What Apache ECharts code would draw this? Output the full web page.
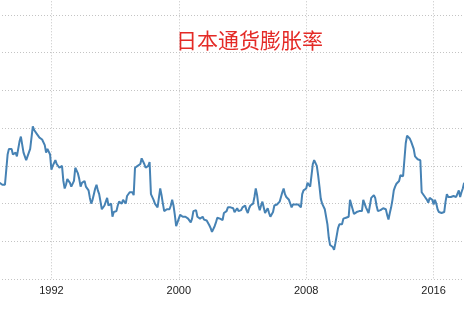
<!DOCTYPE html>
<html>
<head>
<meta charset="utf-8">
<script src="https://cdn.jsdelivr.net/npm/echarts@6/dist/echarts.min.js"></script>
<style>
html,body{margin:0;padding:0;background:#fff;}
#chart{width:464px;height:309px;}
</style>
</head>
<body>
<div id="chart"></div>
<script>
// Japan CPI inflation, year-over-year %, monthly from Oct 1988
var titleText = '日本通货膨胀率';
var startYear = 1988;
var startMonthIndex = 9; // October
var xTickYears = [1992, 2000, 2008, 2016];
var yTicks = [-4, -2, 0, 2, 4, 6, 8, 10, 12];

var values1988to1995 = [
  1.1, 1.1, 1.0,
  1.0, 1.0, 1.0, 2.6, 2.9, 3.0, 2.9, 2.6, 2.7, 2.7, 2.5, 2.9,
  3.3, 3.55, 3.6, 2.7, 2.7, 2.3, 2.4, 2.7, 2.9, 3.5, 4.1, 3.9,
  4.0, 3.7, 3.6, 3.5, 3.4, 3.4, 3.5, 3.1, 2.7, 2.9, 3.0, 2.6,
  1.8, 2.0, 2.1, 2.3, 2.1, 2.2, 1.9, 1.8, 2.0, 1.2, 0.8, 1.0,
  1.3, 1.3, 1.1, 0.9, 0.8, 1.2, 1.9, 1.9, 1.6, 1.3, 0.9, 1.1,
  1.2, 1.2, 0.9, 0.8, 0.7, 0.3, 0.0, 0.2, 0.5, 0.8, 1.0, 0.7,
  0.5, 0.4, -0.3, -0.4, -0.1, 0.1, 0.3, -0.1, -0.1, 0.0, -0.7, -0.45
];
var values1996to2005 = [
  -0.5, -0.4, -0.1, 0.1, 0.2, 0.0, 0.2, 0.3, 0.0, 0.4, 0.5, 0.6,
  0.6, 0.6, 0.45, 1.9, 2.0, 2.0, 1.9, 2.1, 2.4, 2.4, 2.1, 1.9,
  1.8, 2.0, 2.2, 0.5, 0.4, 0.2, 0.0, -0.1, -0.2, 0.3, 0.8, 0.45,
  0.0, -0.4, -0.3, -0.3, -0.4, -0.3, -0.1, 0.2, -0.1, -0.6, -1.2, -1.0,
  -0.8, -0.6, -0.6, -0.7, -0.6, -0.7, -0.7, -0.8, -0.9, -1.0, -0.8, -0.4,
  -0.3, -0.35, -0.7, -0.75, -0.8, -0.8, -0.7, -0.85, -0.8, -0.9, -1.0, -1.15,
  -1.3, -1.5, -1.45, -1.2, -1.0, -0.75, -0.8, -0.8, -0.75, -0.87, -0.5, -0.45,
  -0.4, -0.2, -0.1, -0.2, -0.3, -0.25, -0.45, -0.35, -0.25, -0.4, -0.5, -0.35,
  -0.2, -0.1, -0.1, -0.35, -0.5, -0.25, -0.1, -0.05, 0.0, 0.35, 0.8, 0.45,
  -0.1, -0.35, -0.1, 0.1, 0.1, -0.5, -0.45, -0.25, -0.5, -0.7, -0.8, -0.45
];
var values2006to2017 = [
  -0.1, -0.1, -0.05, 0.0, 0.1, 0.35, 0.6, 0.8, 0.5, 0.35, 0.34, 0.2,
  0.0, -0.2, -0.05, -0.15, -0.05, 0.0, -0.05, 0.0, -0.2, 0.5, 0.7, 0.75,
  0.8, 1.1, 1.1, 0.9, 1.5, 2.1, 2.3, 2.2, 2.0, 1.5, 0.9, 0.25,
  0.0, -0.1, -0.3, -0.3, -1.1, -1.8, -2.2, -2.2, -2.3, -2.45, -2.1, -1.7,
  -1.3, -1.1, -1.1, -1.1, -0.8, -0.85, -0.75, -0.8, -0.7, 0.2, 0.1, -0.3,
  -0.55, -0.6, -0.45, -0.45, -0.4, -0.4, -0.4, 0.2, 0.0, -0.2, -0.3, -0.5,
  -0.1, 0.3, 0.4, 0.45, 0.3, -0.1, -0.4, -0.4, -0.35, -0.45, -0.25, -0.2,
  -0.3, -0.6, -0.85, -0.5, -0.2, 0.2, 0.7, 0.9, 1.05, 1.1, 1.2, 1.5,
  1.4, 1.45, 1.5, 3.2, 3.6, 3.6, 3.45, 3.3, 3.25, 2.9, 2.5, 2.4,
  2.35, 2.25, 2.3, 0.6, 0.5, 0.4, 0.3, 0.2, 0.05, 0.3, 0.3, 0.2,
  -0.05, 0.2, 0.0, -0.3, -0.45, -0.45, -0.5, -0.5, -0.45, 0.1, 0.5, 0.35,
  0.35, 0.35, 0.3, 0.4, 0.4, 0.35, 0.45, 0.7, 0.35, 0.6, 0.8, 1.1
];

var allValues = values1988to1995.concat(values1996to2005, values2006to2017);
var seriesData = allValues.map(function (v, i) {
  return [startYear + (startMonthIndex + i) / 12, v];
});

var chart = echarts.init(document.getElementById('chart'), null, {renderer: 'canvas'});
var gridDot = {color: '#c4c4c4', width: 1, type: [1, 2]};
chart.setOption({
  animation: false,
  backgroundColor: '#ffffff',
  title: {
    text: titleText,
    left: 176,
    top: 30,
    padding: 0,
    textStyle: {
      color: '#e42a26',
      fontSize: 21,
      fontWeight: 'normal',
      fontFamily: '"Noto Sans CJK SC", sans-serif'
    }
  },
  grid: {left: -76, right: -97, top: -22.7, bottom: 30, containLabel: false, outerBoundsMode: 'none'},
  xAxis: {
    type: 'value',
    min: xTickYears[0] - 8,
    max: xTickYears[xTickYears.length - 1] + 8,
    interval: 8,
    axisLine: {show: false},
    axisTick: {show: false},
    axisLabel: {
      margin: 6,
      color: '#222',
      fontSize: 11,
      fontFamily: '"Liberation Sans", Arial, sans-serif',
      formatter: function (v) { return String(v); }
    },
    splitLine: {show: true, lineStyle: gridDot}
  },
  yAxis: {
    type: 'value',
    min: yTicks[0],
    max: yTicks[yTicks.length - 1],
    interval: 2,
    axisLine: {show: false},
    axisTick: {show: false},
    axisLabel: {show: false},
    splitLine: {show: true, lineStyle: gridDot}
  },
  series: [{
    type: 'line',
    data: seriesData,
    showSymbol: false,
    symbol: 'none',
    lineStyle: {color: '#4682b4', width: 2},
    clip: true
  }]
});
</script>
</body>
</html>
